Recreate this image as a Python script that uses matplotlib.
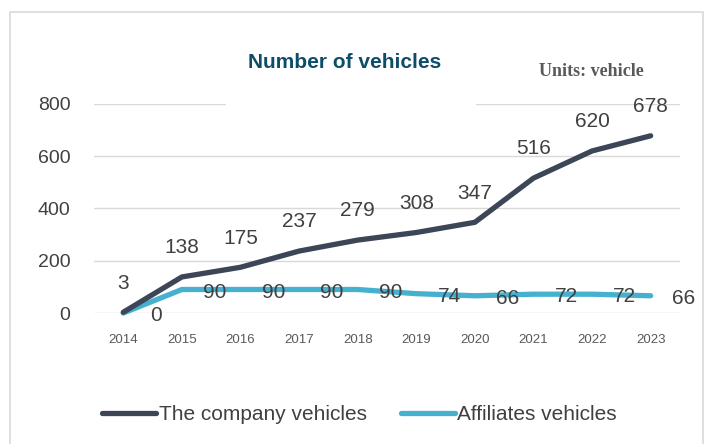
import matplotlib.pyplot as plt
from matplotlib.patches import Rectangle
from matplotlib.lines import Line2D

# 数据
years = ['2014', '2015', '2016', '2017', '2018', '2019', '2020', '2021', '2022', '2023']
company = [3, 138, 175, 237, 279, 308, 347, 516, 620, 678]
affiliates = [0, 90, 90, 90, 90, 74, 66, 72, 72, 66]

dark = '#3C4657'
cyan = '#46B1CF'
text_c = '#404040'

plt.rcParams['font.family'] = ['Liberation Sans', 'DejaVu Sans']

fig = plt.figure(figsize=(7.12, 4.44), dpi=100)
ax = fig.add_axes([0.132, 0.295, 0.823, 0.471])

x = list(range(len(years)))

# 画图
ax.plot(x, company, color=dark, lw=3.8, solid_capstyle='round', solid_joinstyle='round',
        clip_on=False, zorder=3)
ax.plot(x, affiliates, color=cyan, lw=3.8, solid_capstyle='round', solid_joinstyle='round',
        clip_on=False, zorder=2)

# 数据标签
for i, v in enumerate(company):
    ax.annotate(str(v), (i, v), xytext=(0, 21), textcoords='offset points',
                ha='center', va='center', fontsize=15, color=text_c,
                annotation_clip=False)
for i, v in enumerate(affiliates):
    ax.annotate(str(v), (i + 0.56, v), xytext=(0, -2), textcoords='offset points',
                ha='center', va='center', fontsize=15, color=text_c,
                annotation_clip=False)

# 坐标轴
ax.set_xlim(-0.5, len(years) - 0.5)
ax.set_ylim(0, 800)
ax.set_yticks([0, 200, 400, 600, 800])
ax.set_xticks(x)
ax.set_xticklabels(years)
ax.tick_params(axis='x', length=0, pad=15, labelsize=9.5, labelcolor='#595959')
ax.tick_params(axis='y', length=0, pad=17, labelsize=14, labelcolor=text_c)
ax.grid(axis='y', color='#D9D9D9', lw=1)
ax.set_axisbelow(True)
for s in ax.spines.values():
    s.set_visible(False)

# 标题
fig.text(0.484, 0.86, 'Number of vehicles', ha='center', va='center',
         fontsize=15, fontweight='bold', color='#0E4D69')
fig.text(0.83, 0.838, 'Units: vehicle', ha='center', va='center',
         fontsize=13, fontweight='bold', color='#595959',
         family=['Liberation Serif', 'DejaVu Serif'])

# 标题框遮住800网格线
fig.add_artist(Rectangle((0.318, 0.758), 0.351, 0.02, transform=fig.transFigure,
                         facecolor='white', edgecolor='none', zorder=5))

# 外框
fig.add_artist(Rectangle((0.014, -0.05), 0.973, 1.023, transform=fig.transFigure,
                         facecolor='none', edgecolor='#D9D9D9', lw=1.2))

# 图例
handles = [Line2D([], [], color=dark, lw=3.8, solid_capstyle='round'),
           Line2D([], [], color=cyan, lw=3.8, solid_capstyle='round')]
fig.legend(handles, ['The company vehicles', 'Affiliates vehicles'],
           loc='center', bbox_to_anchor=(0.505, 0.066), ncol=2, frameon=False,
           fontsize=15, handlelength=2.6, handletextpad=0.1, columnspacing=1.65,
           labelcolor=text_c)

fig.savefig('out.png', dpi=100)
